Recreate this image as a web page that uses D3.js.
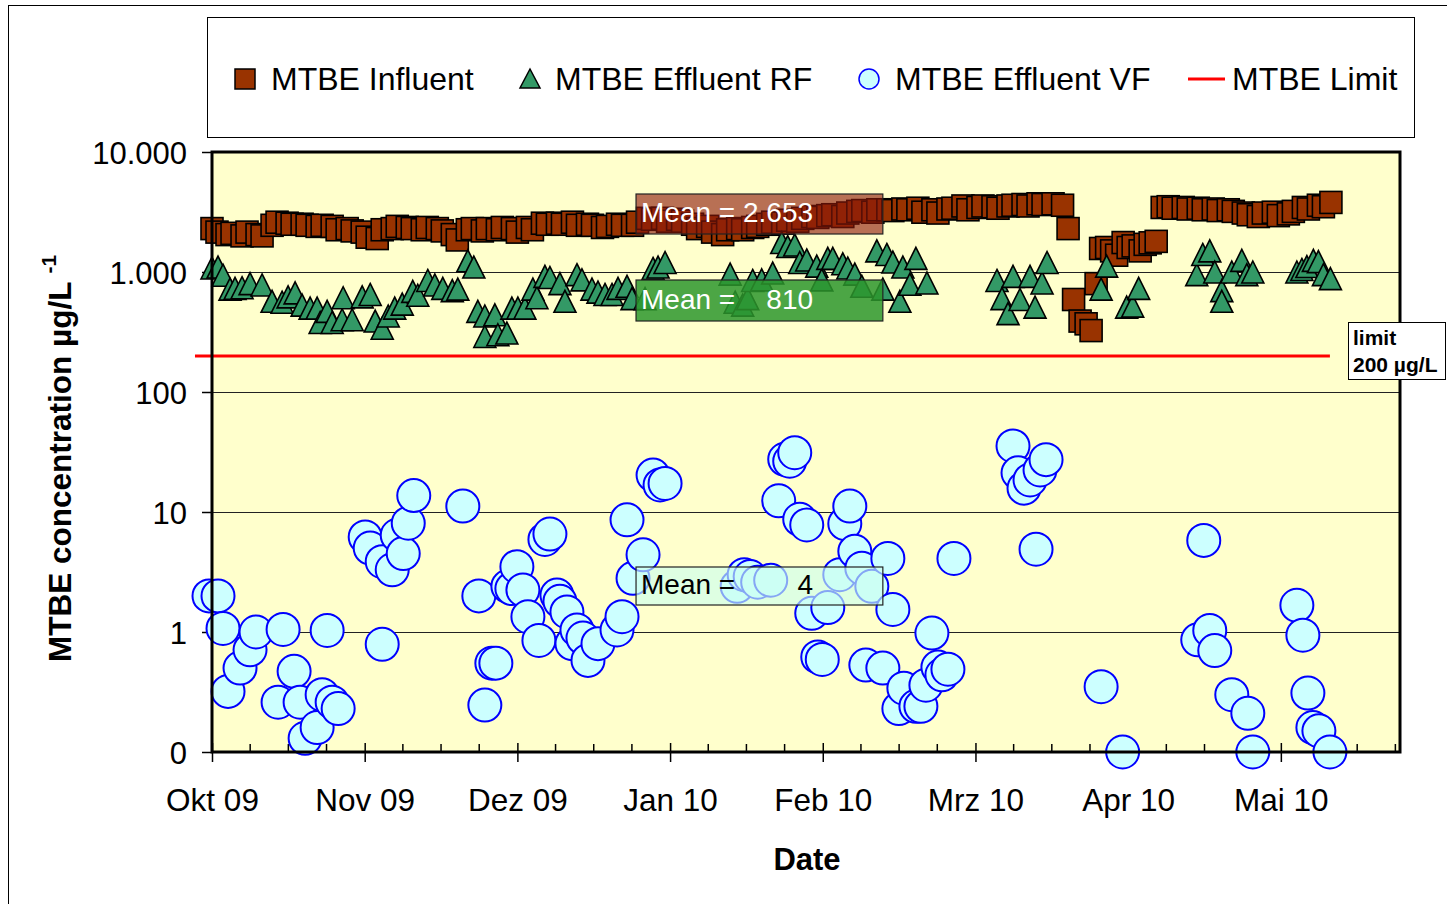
<!DOCTYPE html>
<html><head><meta charset="utf-8">
<script src="https://cdn.jsdelivr.net/npm/d3@7/dist/d3.min.js"></script>
<style>
body{margin:0;background:#fff;}
svg text{font-family:"Liberation Sans",Arial,Helvetica,sans-serif;}
</style>
</head><body>
<svg id="chart" width="1447" height="904"></svg>
<script>
// ---------- DATA ----------
const monthLabels = ["Okt 09","Nov 09","Dez 09","Jan 10","Feb 10","Mrz 10","Apr 10","Mai 10"];
const monthDays = [0, 30.5, 61, 91.5, 122, 152.5, 183, 213.5];   // days since 1 Oct 2009
const yTickValues = [0.1, 1, 10, 100, 1000, 10000];
const yTickLabels = ["0", "1", "10", "100", "1.000", "10.000"];
const seriesNames = ["MTBE Influent", "MTBE Effluent RF", "MTBE Effluent VF", "MTBE Limit"];

// [day, µg/L]
const influent = [
[0,2300],[1,2150],[3,2050],[4,2100],[6,2000],[7,2150],[9,2050],[10,2000],[12,2450],[13,2600],
[15,2550],[16,2500],[18,2500],[19,2450],[21,2400],[22,2450],[24,2400],[25,2250],[27,2300],[28,2200],
[30,2150],[31,1950],[33,1900],[34,2250],[36,2300],[37,2400],[39,2350],[40,2300],[42,2250],[43,2350],
[45,2300],[46,2200],[48,2050],[49,1850],[51,2250],[52,2300],[54,2200],[55,2300],[57,2250],[58,2350],
[60,2300],[61,2150],[63,2350],[64,2250],[66,2550],[67,2500],[69,2550],[70,2500],[72,2600],[73,2450],
[75,2500],[76,2450],[78,2350],[79,2400],[81,2500],[82,2450],[84,2450],[85,2600],[87,2800],[88,2750],
[90,2800],[91,2650],[93,2750],[94,2650],[96,2500],[97,2300],[99,2400],[100,2150],[102,2050],[103,2250],
[105,2300],[106,2250],[108,2350],[109,2400],[111,2500],[112,2600],[114,2550],[115,2700],[117,2650],[118,2800],
[120,2900],[121,2850],[123,2950],[124,3000],[126,2900],[127,3100],[129,3200],[130,3250],[132,3150],[133,3300],
[135,3300],[136,3250],[138,3350],[139,3300],[141,3400],[142,3150],[144,3300],[145,3100],[147,3350],[148,3400],
[150,3550],[151,3300],[153,3450],[154,3550],[156,3500],[157,3400],[159,3550],[160,3600],[162,3650],[163,3550],
[165,3700],[166,3650],[168,3700],[169.9,3600],[171,2300],
[172.1,590],[173.4,390],[174.6,370],[175.6,325],[176.6,800],[177.5,1570],[178.7,1600],[179.7,1500],[180.7,1380],
[182,1760],[183,1600],[184,1650],[185.4,1500],[186.4,1700],[187.4,1750],[188.6,1800],
[189.8,3450],[191,3500],[192,3400],[194,3450],[195,3350],[197,3400],[198,3300],[200,3350],[201,3250],[203,3300],
[204,3200],[206,3100],[207,3000],[209,2900],[210,3100],[212,3150],[213,2950],[215,3050],[216,3200],[218,3450],
[219,3350],[221,3600],[222,3500],[223.5,3800]
];

const effluentRF = [
[0,1080],[1.2,1100],[2.2,940],[3.6,720],[4.6,730],[6,740],[7.6,800],[10,780],[12,570],[14,560],
[15.2,620],[16.6,670],[18,530],[19.6,500],[21,500],[21.6,380],[23,470],[24,380],[26,400],[26.2,610],
[28,400],[30,620],[31.6,650],[32.6,390],[34,340],[35.2,430],[36.5,500],[38,540],[40.1,690],[41.1,640],
[43.1,850],[44.5,780],[46.1,730],[48,700],[49.1,720],[51.1,1240],[52.3,1100],[53.1,470],[54.5,430],[54.5,290],
[56.5,440],[57.1,300],[58.9,310],[59.9,500],[61.1,500],[62.5,500],[64.1,720],[64.9,610],[66.5,920],[67.5,900],
[69.5,800],[70.5,570],[72.9,950],[73.9,860],[75.9,720],[77.1,680],[78.5,650],[79.9,650],[81.1,730],[82.9,760],
[83.9,600],[86.5,600],[88.1,1070],[89.1,1100],[90.5,1200],
[103.5,960],[104.5,560],[106,530],[107,600],[108,850],[109.8,860],[112,980],[113.8,1760],[115,1630],[116.4,1680],
[117.4,1200],[118.8,1260],[120.8,1120],[121.8,860],[123,1300],[124,1300],[126,1170],[127,1080],[128.4,960],[129.8,760],
[132.8,1500],[134,720],[134.8,1400],[136,1210],[137.4,570],[138,1100],[139.4,790],[140.6,1300],[142.8,810],
[156.8,850],[157.8,600],[159,450],[160,920],[161.4,590],[163.4,920],[164.4,510],[165.8,810],[166.8,1200],
[177.6,720],[178.7,1120],[182.7,510],[183.9,520],[185.1,730],
[196.7,950],[197.9,1400],[199.3,1500],[200.3,1000],[201.7,700],[201.7,570],[203.7,1000],[205.7,1250],[206.7,950],[207.9,1000],
[216.7,1000],[217.7,1050],[218.7,1110],[220,1250],[221,1220],[222,950],[223.4,880]
];

const effluentVF = [
[-0.6,2.0],[1.2,2.0],[2.2,1.07],[3.2,0.32],[5.6,0.5],[7.6,0.71],[8.8,1.0],[13.2,0.26],[14.2,1.05],[16.4,0.47],
[17.6,0.26],[18.6,0.13],[21,0.16],[22,0.3],[23,1.03],[24,0.26],[25.2,0.23],
[30.6,6.2],[31.6,5.0],[34,3.85],[34,0.79],[36,3.3],[37,6.4],[38.2,4.5],[39.2,8.06],[40.3,13.7],
[50.1,11.2],[53.3,2.0],[54.5,0.246],[55.9,0.55],[56.7,0.55],[59.1,2.4],[59.9,2.3],[60.9,3.5],[62.1,2.24],[63.1,1.34],
[65.3,0.85],[66.5,5.9],[67.5,6.55],[68.9,2.03],[69.5,1.8],[70.9,1.47],[71.9,0.8],[72.9,1.04],[74.1,0.89],[75.1,0.58],
[77.1,0.8],[80.9,1.04],[81.9,1.34],[82.9,8.6],[84.1,2.8],[86.1,4.4],[88.1,20.3],[89.5,16.8],[90.5,17.3],
[104.9,2.4],[106.3,3.0],[107.5,2.9],[109,2.6],[111.6,2.7],[113.2,12.4],[114.4,27.5],[115.4,26.5],[116.4,31.2],[117.4,8.7],
[118.8,7.8],[119.8,1.43],[121,0.62],[121.9,0.59],[123,1.6],[125.4,3.0],[126.4,8.0],[127.4,11.2],[128.4,4.7],[129.8,3.4],
[130.6,0.53],[131.8,2.4],[134,0.5],[135,4.1],[136,1.54],[137.2,0.23],[138.2,0.34],[140.6,0.24],[141.6,0.24],[142.6,0.36],
[143.8,0.98],[145,0.51],[145.8,0.44],[147,0.49],[148.2,4.1],
[160,35.5],[161,21.2],[162.2,15.8],[163.4,18.5],[164.6,4.9],[165.4,22.4],[166.6,27.3],
[177.6,0.35],[181.9,0.1],
[196.9,0.86],[198.1,5.8],[199.3,1.03],[200.3,0.7],[203.7,0.3],[206.9,0.21],[207.9,0.1],
[216.7,1.67],[217.9,0.94],[218.9,0.31],[219.9,0.16],[221.1,0.15],[223.3,0.1]
];

const limitValue = 200;
const limitSpan = [-3.4, 223.3];
const meanTexts = ["Mean = 2.653", "Mean =    810", "Mean =        4"];
const meanSpan = [84.7, 134];

// ---------- LAYOUT ----------
const svg = d3.select("#chart");
const P = {left:212, right:1400, top:152, bottom:752};
const x = d3.scaleLinear().domain([0, 237.3]).range([P.left, P.right]);
const y = d3.scaleLog().domain([0.1, 10000]).range([P.bottom, P.top]);

// outer chart frame
svg.append("rect").attr("x",8.5).attr("y",5.5).attr("width",1460).attr("height",920)
  .attr("fill","#fff").attr("stroke","#000").attr("stroke-width",1);

// plot background
svg.append("rect").attr("x",P.left).attr("y",P.top).attr("width",P.right-P.left).attr("height",P.bottom-P.top)
  .attr("fill","#FFFFCC");

// grid lines
svg.append("g").selectAll("line").data(yTickValues.filter(v=>v>0.1 && v<10000)).join("line")
  .attr("x1",P.left).attr("x2",P.right).attr("y1",d=>Math.round(y(d))+0.5).attr("y2",d=>Math.round(y(d))+0.5)
  .attr("stroke","#222").attr("stroke-width",1);

// y axis ticks + labels
const yAxis = d3.axisLeft(y).tickValues(yTickValues).tickSize(10).tickPadding(15)
  .tickFormat((d,i)=>yTickLabels[i]);
const gy = svg.append("g").attr("transform",`translate(${P.left},0)`).call(yAxis);
gy.select(".domain").remove();
gy.selectAll(".tick line").attr("stroke","#000").attr("stroke-width",1.5);
gy.selectAll(".tick text").attr("font-size",31).attr("fill","#000").attr("dy","0.36em")
  .attr("font-family","Liberation Sans, Arial, sans-serif");

// x axis minor ticks (inside)
const minor = d3.range(0, 237.3, 30.5/4).filter((d,i)=>i%4!==0);
svg.append("g").selectAll("line").data(minor).join("line")
  .attr("x1",d=>x(d)).attr("x2",d=>x(d)).attr("y1",P.bottom-8).attr("y2",P.bottom)
  .attr("stroke","#000").attr("stroke-width",1.5);
// major ticks (cross)
const xAxis = d3.axisBottom(x).tickValues(monthDays).tickSize(10).tickPadding(27)
  .tickFormat((d,i)=>monthLabels[i]);
const gx = svg.append("g").attr("transform",`translate(0,${P.bottom})`).call(xAxis);
gx.select(".domain").remove();
gx.selectAll(".tick line").attr("y1",-9).attr("stroke","#000").attr("stroke-width",1.5);
gx.selectAll(".tick text").attr("font-size",31.5).attr("fill","#000")
  .attr("font-family","Liberation Sans, Arial, sans-serif");

// ---------- SERIES ----------
const gData = svg.append("g");
const sq = 22;
gData.append("g").selectAll("rect").data(influent).join("rect")
  .attr("x",d=>x(d[0])-sq/2).attr("y",d=>y(d[1])-sq/2).attr("width",sq).attr("height",sq)
  .attr("fill","#993300").attr("stroke","#000").attr("stroke-width",1.6);

const tri = "M0,-11L11,11L-11,11Z";
gData.append("g").selectAll("path").data(effluentRF).join("path")
  .attr("transform",d=>`translate(${x(d[0])},${y(d[1])})`).attr("d",tri)
  .attr("fill","#339966").attr("stroke","#000").attr("stroke-width",1.6).attr("stroke-linejoin","miter");

gData.append("g").selectAll("circle").data(effluentVF).join("circle")
  .attr("cx",d=>x(d[0])).attr("cy",d=>y(d[1])).attr("r",16.5)
  .attr("fill","#CCFFFF").attr("stroke","#0000FF").attr("stroke-width",2);

svg.append("line").attr("x1",x(limitSpan[0])).attr("x2",x(limitSpan[1]))
  .attr("y1",y(limitValue)).attr("y2",y(limitValue)).attr("stroke","#FF0000").attr("stroke-width",3);

// plot border
svg.append("rect").attr("x",P.left).attr("y",P.top).attr("width",P.right-P.left).attr("height",P.bottom-P.top)
  .attr("fill","none").attr("stroke","#000").attr("stroke-width",3);

// ---------- MEAN BOXES ----------
const boxes = [
  {y:194, h:40, fill:"rgba(140,25,10,0.62)", txt:"#fff"},
  {y:280, h:41, fill:"rgba(45,150,45,0.85)", txt:"#fff"},
  {y:567, h:38, fill:"rgba(205,255,238,0.65)", txt:"#000"}
];
boxes.forEach((b,i)=>{
  svg.append("rect").attr("x",x(meanSpan[0])).attr("y",b.y).attr("width",x(meanSpan[1])-x(meanSpan[0])).attr("height",b.h)
    .attr("fill",b.fill).attr("stroke","#222").attr("stroke-width",1.2);
  svg.append("text").attr("x",x(meanSpan[0])+5).attr("y",b.y+b.h/2+8)
    .attr("font-size",28).attr("fill",b.txt).style("white-space","pre").text(meanTexts[i]);
});

// limit annotation
svg.append("rect").attr("x",1348.5).attr("y",322.5).attr("width",97).attr("height",57)
  .attr("fill","#fff").attr("stroke","#000").attr("stroke-width",1);
svg.append("text").attr("x",1353).attr("y",345).attr("font-size",21).attr("font-weight","bold").text("limit");
svg.append("text").attr("x",1353).attr("y",372).attr("font-size",21).attr("font-weight","bold").text("200 µg/L");

// ---------- LEGEND ----------
svg.append("rect").attr("x",207.5).attr("y",17.5).attr("width",1207).attr("height",120)
  .attr("fill","#fff").attr("stroke","#000").attr("stroke-width",1);
const ly = 79;
const lg = svg.append("g");
lg.append("rect").attr("x",235).attr("y",ly-10).attr("width",20).attr("height",20)
  .attr("fill","#993300").attr("stroke","#000").attr("stroke-width",1.5);
lg.append("path").attr("transform",`translate(530,${ly})`).attr("d","M0,-10L10,9L-10,9Z")
  .attr("fill","#339966").attr("stroke","#000").attr("stroke-width",1.5);
lg.append("circle").attr("cx",869).attr("cy",ly).attr("r",10)
  .attr("fill","#CCFFFF").attr("stroke","#0000FF").attr("stroke-width",1.5);
lg.append("line").attr("x1",1188).attr("x2",1225).attr("y1",ly).attr("y2",ly)
  .attr("stroke","#FF0000").attr("stroke-width",3);
const lx = [271, 555, 895, 1232];
seriesNames.forEach((n,i)=>{
  lg.append("text").attr("x",lx[i]).attr("y",ly+11).attr("font-size",32).attr("fill","#000").text(n);
});

// ---------- AXIS TITLES ----------
svg.append("text").attr("x",807).attr("y",870).attr("text-anchor","middle")
  .attr("font-size",31).attr("font-weight","bold").text("Date");
const yt = svg.append("text").attr("transform","translate(71,662) rotate(-90)")
  .attr("font-size",31.5).attr("font-weight","bold").style("white-space","pre");
yt.append("tspan").text("MTBE concentration µg/L ");
yt.append("tspan").attr("dy",-15).attr("font-size",21).text("-1");
</script>
</body></html>
